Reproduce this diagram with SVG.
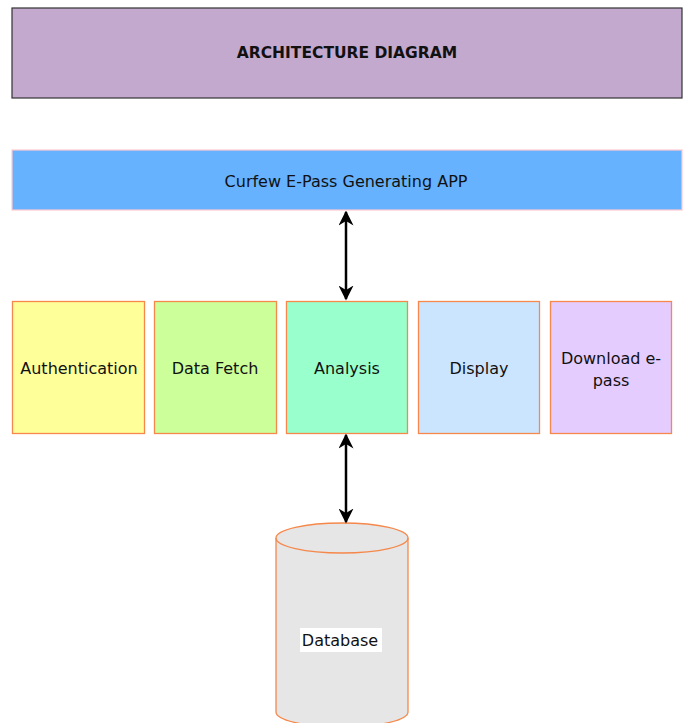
<svg xmlns="http://www.w3.org/2000/svg" width="686" height="723" viewBox="0 0 686 723">
<style>
text{font-family:"Comic Sans MS","DejaVu Sans","Liberation Sans",sans-serif;fill:#111;text-anchor:middle;dominant-baseline:central}
.lbl{font-size:16px}
.box{stroke:#F5884A;stroke-width:1.3}
.conn{stroke:#000;stroke-width:2.5;fill:none}
</style>
<defs>
<marker id="ah" viewBox="0 0 10 10" refX="9" refY="5" markerWidth="6" markerHeight="6" orient="auto-start-reverse" markerUnits="strokeWidth">
<path d="M0,0 L10,5 L0,10 L3,5 Z" fill="#000"/>
</marker>
</defs>
<rect width="686" height="723" fill="#fff"/>
<g id="title">
<rect x="12" y="8" width="670" height="90" fill="#C3A9CE" stroke="#333" stroke-width="1.2"/>
<text x="347" y="53" font-size="15.5" font-weight="bold">ARCHITECTURE DIAGRAM</text>
</g>
<g id="app">
<rect x="12" y="150" width="670" height="60" fill="#66B2FF" stroke="#FFC8D0" stroke-width="1.2"/>
<text class="lbl" x="346" y="181">Curfew E-Pass Generating APP</text>
</g>
<g id="auth">
<rect class="box" x="12.5" y="301.5" width="132" height="132" fill="#FFFF99"/>
<text class="lbl" x="79" y="368">Authentication</text>
</g>
<g id="fetch">
<rect class="box" x="154.5" y="301.5" width="122" height="132" fill="#CCFF99"/>
<text class="lbl" x="215" y="368">Data Fetch</text>
</g>
<g id="analysis">
<rect class="box" x="286.5" y="301.5" width="121" height="132" fill="#99FFCC"/>
<text class="lbl" x="347" y="368">Analysis</text>
</g>
<g id="display">
<rect class="box" x="418.5" y="301.5" width="121" height="132" fill="#CCE5FF"/>
<text class="lbl" x="479" y="368">Display</text>
</g>
<g id="download">
<rect class="box" x="550.5" y="301.5" width="121" height="132" fill="#E5CCFF"/>
<text class="lbl" x="611" y="358">Download e-</text>
<text class="lbl" x="611" y="380">pass</text>
</g>
<g id="database">
<path class="box" d="M276,538 A66,15 0 0 1 408,538 L408,712 A66,15 0 0 1 276,712 Z" fill="#E6E6E6"/>
<path class="box" d="M276,538 A66,15 0 0 0 408,538" fill="none"/>
<rect x="300" y="628" width="82" height="24" fill="#fff"/>
<text class="lbl" x="340" y="640">Database</text>
</g>
<g id="connectors">
<line class="conn" x1="346" y1="212" x2="346" y2="299" marker-start="url(#ah)" marker-end="url(#ah)"/>
<line class="conn" x1="346" y1="435" x2="346" y2="522" marker-start="url(#ah)" marker-end="url(#ah)"/>
</g>
</svg>
